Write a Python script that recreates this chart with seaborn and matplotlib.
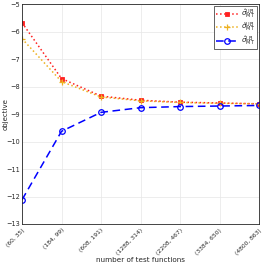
import numpy as np
import pandas as pd
import matplotlib
matplotlib.use("Agg")
import matplotlib.pyplot as plt
import seaborn as sns

# data
test_funcs = ["(60, 35)", "(184, 99)", "(608, 191)", "(1288, 314)",
              "(2208, 467)", "(3384, 650)", "(4800, 863)"]
ub_hat = [-5.68, -7.71, -8.35, -8.50, -8.57, -8.60, -8.63]
ub_tilde = [-6.26, -7.82, -8.38, -8.52, -8.58, -8.61, -8.63]
lb_hat = [-12.12, -9.63, -8.94, -8.77, -8.73, -8.71, -8.69]

labels = [r"$\hat{\sigma}^{\mathrm{UB}}_{\mathrm{MT}}$",
          r"$\tilde{\sigma}^{\mathrm{UB}}_{\mathrm{MT}}$",
          r"$\hat{\sigma}^{\mathrm{LB}}_{\mathrm{MT}}$"]

df = pd.DataFrame({"pos": np.arange(len(test_funcs)),
                   "ub_hat": ub_hat, "ub_tilde": ub_tilde, "lb_hat": lb_hat})

sns.set_style("white")
plt.rcParams["font.family"] = ["DejaVu Sans"]

fig = plt.figure(figsize=(2.66, 2.66), dpi=100)
ax = fig.add_axes([22 / 266, 42 / 266, 237 / 266, 220 / 266])

sns.lineplot(data=df, x="pos", y="ub_hat", ax=ax, color="#ff2020", linestyle=":",
             marker="s", markersize=3.2, markeredgewidth=0.6, markeredgecolor="#ff2020",
             linewidth=1.1, label=labels[0])
sns.lineplot(data=df, x="pos", y="ub_tilde", ax=ax, color="#edb120", linestyle=":",
             marker="+", markersize=4.5, markeredgewidth=0.9, markeredgecolor="#edb120",
             linewidth=1.1, label=labels[1])
sns.lineplot(data=df, x="pos", y="lb_hat", ax=ax, color="#0000ff", linestyle=(0, (5, 3)),
             marker="o", markersize=4, markerfacecolor="none", markeredgecolor="#0000ff",
             markeredgewidth=0.9, linewidth=1.1, label=labels[2])

ax.set_xlim(0, len(test_funcs) - 1)
ax.set_ylim(-13, -5)
ax.set_xticks(df["pos"])
ax.set_xticklabels(test_funcs, rotation=45, ha="right", rotation_mode="anchor", fontsize=4.3)
ax.set_yticks(range(-13, -4))
ax.tick_params(axis="y", labelsize=4.7, pad=1.5)
ax.tick_params(axis="x", pad=2.5)
ax.tick_params(direction="in", length=2.5, width=0.5, colors="#262626")
ax.grid(True, color="#e6e6e6", linewidth=0.5)
for s in ax.spines.values():
    s.set_color("#262626")
    s.set_linewidth(0.6)

ax.set_xlabel("number of test functions", fontsize=5.2, labelpad=0.5)
ax.set_ylabel("objective", fontsize=5.0)
ax.yaxis.set_label_coords(-0.058, 0.5)

leg = ax.legend(loc="upper right", fontsize=5.2, handlelength=3.2, borderpad=0.25,
                labelspacing=0.0, handletextpad=0.3, fancybox=False, framealpha=1,
                edgecolor="#262626", borderaxespad=0.3)
leg.get_frame().set_linewidth(0.5)

fig.savefig("out.png", dpi=100)
